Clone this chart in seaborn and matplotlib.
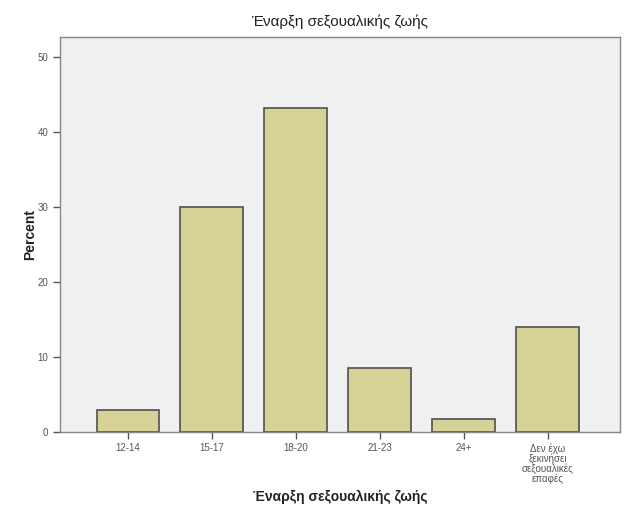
import matplotlib
matplotlib.use("Agg")
import matplotlib.pyplot as plt
import seaborn as sns
import pandas as pd

categories = ["12-14", "15-17", "18-20", "21-23", "24+",
              "Δεν έχω\nξεκινήσει\nσεξουαλικές\nεπαφές"]
percent = [2.9, 30.0, 43.3, 8.5, 1.7, 14.0]
yticks = [0, 10, 20, 30, 40, 50]

sns.set_style("white")
plt.rcParams['font.family'] = ['Liberation Sans', 'DejaVu Sans']

df = pd.DataFrame({"cat": categories, "pct": percent})

fig = plt.figure(figsize=(6.25, 5.16), dpi=100)
ax = fig.add_axes([0.096, 0.163, 0.896, 0.765])
ax.set_facecolor("#f0f0f0")
sns.barplot(data=df, x="cat", y="pct", color="#d6d195", saturation=1,
            edgecolor="#505050", linewidth=1.2, width=0.75, ax=ax)
ax.set_ylim(0, 52.7)
ax.set_xlim(-0.81, 5.86)
ax.set_yticks(yticks)
ax.set_yticklabels([str(t) for t in yticks], fontsize=7, color="#555555")
ax.tick_params(axis="x", labelsize=7, colors="#555555", length=5, width=1,
               direction="out", bottom=True, pad=3)
ax.tick_params(axis="y", length=5, width=1, direction="out", left=True,
               colors="#555555")
for s in ax.spines.values():
    s.set_color("#888888")
    s.set_linewidth(1)
ax.set_xlabel("Έναρξη σεξουαλικής ζωής", fontsize=10, fontweight="bold",
              labelpad=4, color="#222222")
ax.set_ylabel("Percent", fontsize=10, fontweight="bold", labelpad=0,
              color="#222222")
ax.set_title("Έναρξη σεξουαλικής ζωής", fontsize=11, pad=8, color="#222222")
for lab in ax.get_xticklabels():
    lab.set_linespacing(0.95)
fig.savefig("out.png", dpi=100, facecolor="white")
